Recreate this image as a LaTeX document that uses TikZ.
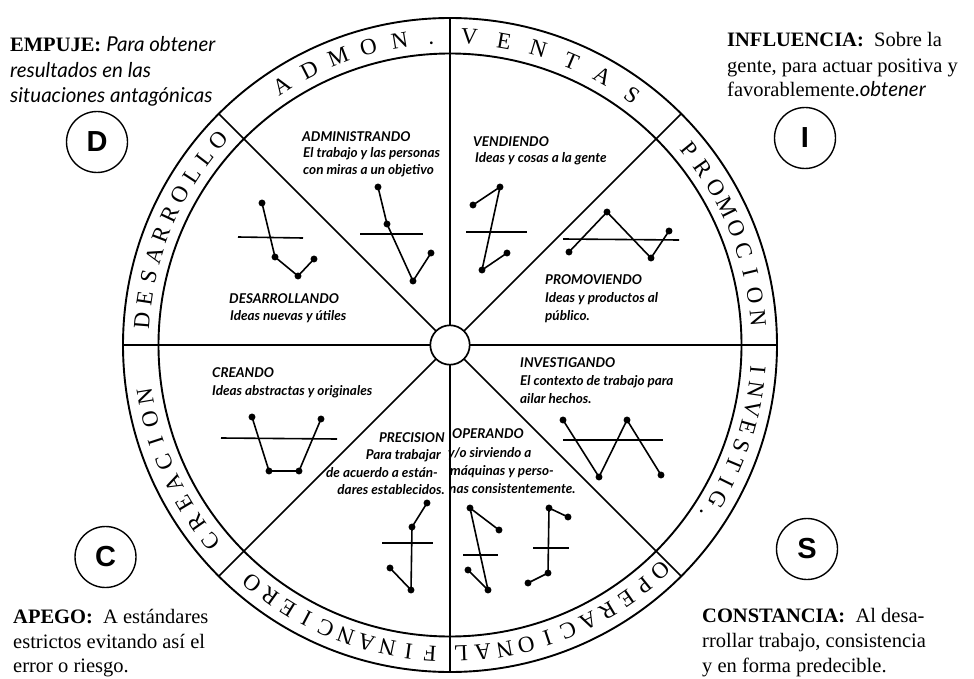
\documentclass[tikz,border=0pt]{standalone}
\usepackage{fontspec}
\setmainfont{Liberation Serif}
\newfontfamily\sansit{Lato}
\newfontfamily\badgefont{Liberation Sans}
\newcommand\ringword[4]{%
  \foreach \ch [count=\i from 0] in {#4} {%
    \pgfmathsetmacro\ang{#2-#3*\i}%
    \node[ringletter, rotate=\ang-90] (#1-\i) at ({450+309*cos(\ang)},{345-309*sin(\ang)}) {\ch};
  }}
\begin{document}
\begin{tikzpicture}[x=1pt,y=-1pt,
  ringletter/.style={font=\fontsize{23}{23}\selectfont, inner sep=0pt, text height=15.2pt, text depth=0pt, anchor=center},
  hd/.style={anchor=base west, inner sep=0pt, font=\fontsize{20.5}{25}\selectfont},
  itx/.style={anchor=base west, inner sep=0pt, text height=10pt, text depth=3pt, font=\sansit\itshape\bfseries\fontsize{13.5}{15}\selectfont},
  itxr/.style={itx, anchor=base east},
  badge/.style={circle, draw, line width=1.4pt, minimum size=61pt, inner sep=0pt, font=\badgefont\bfseries\fontsize{29}{29}\selectfont},
  fig/.style={line width=1.6pt, mark=*, mark size=2.6pt, mark options={fill=black}},
  bar/.style={line width=1.6pt},
  rad/.style={line width=1.7pt},
  ring/.style={line width=1.9pt}]
\useasboundingbox (0,0) rectangle (974,679);

% ---- corner texts ----
\node[hd] (e1) at (10,52) {\textbf{EMPUJE:} {\sansit\itshape Para obtener}};
\node[hd] (e2) at (10,78) {\sansit\itshape resultados en las};
\node[hd] (e3) at (10,103) {\sansit\itshape situaciones antagónicas};

\node[hd] (i1) at (727,47) {\textbf{INFLUENCIA:}\ \ Sobre la};
\node[hd] (i2) at (727,73) {gente, para actuar positiva y};
\node[hd] (i3) at (727,97) {favorablemente.{\sansit\itshape obtener}};

\node[hd] (a1) at (13,623) {\textbf{APEGO:}\ \ A estándares};
\node[hd] (a2) at (13,648) {estrictos evitando así el};
\node[hd] (a3) at (13,672) {error o riesgo.};

\node[hd] (c1) at (702,622) {\textbf{CONSTANCIA:}\ \ Al desa-};
\node[hd] (c2) at (702,647) {rrollar trabajo, consistencia};
\node[hd] (c3) at (702,672) {y en forma predecible.};

\node[badge] (D) at (97,142) {D};
\node[badge] (I) at (805,138) {I};
\node[badge] (C) at (105.5,557) {C};
\node[badge] (S) at (807,549) {S};

% ---- sector texts ----
\node[itx] (adm1) at (302,142) {ADMINISTRANDO};
\node[itx] (adm2) at (303,158) {El trabajo y las personas};
\node[itx] (adm3) at (303,175) {con miras a un objetivo};

\node[itx] (ven1) at (473,147) {VENDIENDO};
\node[itx] (ven2) at (475,163) {Ideas y cosas a la gente};

\node[itx] (pro1) at (545,284) {PROMOVIENDO};
\node[itx] (pro2) at (545,302) {Ideas y productos al};
\node[itx] (pro3) at (545,320) {público.};

\node[itx] (des1) at (229,303) {DESARROLLANDO};
\node[itx] (des2) at (230,320) {Ideas nuevas y útiles};

\node[itx] (cre1) at (212,377) {CREANDO};
\node[itx] (cre2) at (212,395) {Ideas abstractas y originales};

\node[itx] (inv1) at (520,367) {INVESTIGANDO};
\node[itx] (inv2) at (520,385) {El contexto de trabajo para};
\node[itx] (inv3) at (520,403) {ailar hechos.};

\node[itxr] (pre1) at (445,442) {PRECISION};
\node[itxr] (pre2) at (441,459) {Para trabajar};
\node[itxr] (pre3) at (438,477) {de acuerdo a están-};
\node[itxr] (pre4) at (445,494) {dares establecidos.};

\node[itx] (ope1) at (452,438) {OPERANDO};
\node[itx] (ope2) at (448,457) {y/o sirviendo a};
\node[itx] (ope3) at (450,475) {máquinas y perso-};
\node[itx] (ope4) at (449,493) {nas consistentemente.};

% ---- wheel ----
\draw[ring] (450,345) circle[radius=327];
\draw[ring] (450,345) circle[radius=291.5];
\foreach \a in {0,45,...,315}
  \draw[rad] ({450+19.7*cos(\a)},{345-19.7*sin(\a)}) -- ({450+327*cos(\a)},{345-327*sin(\a)});
\draw[rad, fill=white] (450,345) circle[radius=19.7];

% ---- ring labels ----
\ringword{des}{175.4}{4.1}{D,E,S,A,R,R,O,L,L,O}
\ringword{adm}{123}{5.9}{A,D,M,O,N,.}
\ringword{ven}{86.4}{6.5}{V,E,N,T,A,S}
\ringword{pro}{39.2}{4.27}{P,R,O,M,O,C,I,O,N}
\ringword{inv}{-4.7}{3.6}{I,N,V,E,S,T,I,G,.}
\ringword{ope}{-47}{4.1}{O,P,E,R,A,C,I,O,N,A,L}
\ringword{fin}{-93.7}{4}{F,I,N,A,N,C,I,E,R,O}
\ringword{cre}{-140.6}{4.26}{C,R,E,A,C,I,O,N}

% ---- figures ----
% administrando
\draw[bar] (360,234) -- (423,234);
\draw[fig] plot coordinates {(378,187) (387,224) (413,281) (431,253)};
% desarrollando
\draw[bar] (238,237) -- (303,238);
\draw[fig] plot coordinates {(262,203) (275,257) (298,276) (314,259)};
% vendiendo
\draw[bar] (466,232) -- (527,232);
\draw[fig] plot coordinates {(473,205) (500,187) (482,270) (507,253)};
% promoviendo
\draw[bar] (563,239) -- (679,240);
\draw[fig] plot coordinates {(569,252) (607,212) (651,258) (669,231)};
% creando
\draw[bar] (221,438) -- (337,439);
\draw[fig] plot coordinates {(252,417) (269,471) (299,471) (321,419)};
% investigando
\draw[bar] (563,440) -- (663,440);
\draw[fig] plot coordinates {(563,420) (599,477) (627,420) (661,475)};
% precision
\draw[bar] (382,543) -- (433,543);
\draw[fig] plot coordinates {(427,503) (412,527) (411,590) (390,568)};
% operando 1
\draw[bar] (463,555) -- (498,555);
\draw[fig] plot coordinates {(499,530) (470,508) (488,590) (468,570)};
% operando 2
\draw[bar] (533,548) -- (569,548);
\draw[fig] plot coordinates {(568,517) (549,508) (548,573) (528,583)};
\end{tikzpicture}
\end{document}
